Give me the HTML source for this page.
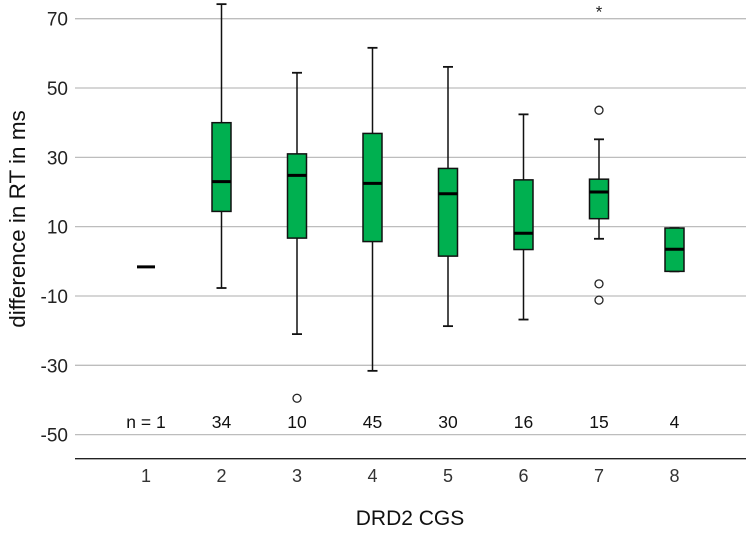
<!DOCTYPE html>
<html><head><meta charset="utf-8"><style>
body{margin:0;background:#fff;}
svg{display:block;font-family:"Liberation Sans",Arial,sans-serif;}
</style></head><body>
<svg id="chart" width="749" height="542"></svg>
<script>
const categories=["1","2","3","4","5","6","7","8"];
const counts=["n = 1","34","10","45","30","16","15","4"];
const whiskLow=[-1.6,-7.7,-21,-31.6,-18.7,-16.8,6.5,-2.9];
const q1=[-1.6,14.4,6.7,5.7,1.5,3.4,12.3,-2.9];
const medians=[-1.6,23,24.8,22.5,19.5,8.1,20,3.5];
const q3=[-1.6,40,31,36.9,26.8,23.5,23.7,9.6];
const whiskHigh=[-1.6,74.2,54.4,61.6,56.1,42.4,35.2,9.6];
const outliers=[[],[],[-39.5],[],[],[],[43.6,-6.5,-11.2],[]];
const extremes=[[],[],[],[],[],[],[72.7],[]];
const yTicks=[70,50,30,10,-10,-30,-50];

const NS="http://www.w3.org/2000/svg";
const svg=document.getElementById('chart');
const y=v=>18.7+(70-v)*3.466;
const x=i=>146+i*75.5;
function el(t,a,txt){const e=document.createElementNS(NS,t);for(const k in a)e.setAttribute(k,a[k]);if(txt!==undefined)e.textContent=txt;svg.appendChild(e);return e;}

yTicks.forEach(t=>{
  const g=el('line',{x1:75,x2:746,y1:y(t),y2:y(t),stroke:'#bdbdbd','stroke-width':1.3});
  
  
  const l=el('text',{x:68,y:y(t)+7,'text-anchor':'end','font-size':19,fill:'#222'},t);
  
  
});
const ax=el('line',{x1:75,x2:746,y1:458.7,y2:458.7,stroke:'#222','stroke-width':1.3});



categories.forEach((c,i)=>{
  const cx=x(i),w=19;
  if(i===0){
    const m=el('line',{x1:cx-9,x2:cx+9,y1:y(medians[i]),y2:y(medians[i]),stroke:'#000','stroke-width':3});
    
    
  } else {
    const wl=el('line',{x1:cx,x2:cx,y1:y(whiskHigh[i]),y2:y(whiskLow[i]),stroke:'#111','stroke-width':1.5});
    
    
    [whiskHigh[i],whiskLow[i]].forEach(v=>{
      const cap=el('line',{x1:cx-5,x2:cx+5,y1:y(v),y2:y(v),stroke:'#111','stroke-width':1.8});
      
      
    });
    const b=el('rect',{x:cx-w/2,y:y(q3[i]),width:w,height:y(q1[i])-y(q3[i]),fill:'#00b050',stroke:'#111','stroke-width':1.5});
    
    
    const m=el('line',{x1:cx-w/2,x2:cx+w/2,y1:y(medians[i]),y2:y(medians[i]),stroke:'#000','stroke-width':3});
    
    
  }
  outliers[i].forEach(v=>{
    const o=el('circle',{cx:cx,cy:y(v),r:4,fill:'#fff',stroke:'#222','stroke-width':1.3});
    
    
  });
  extremes[i].forEach(v=>{
    const s=el('text',{x:cx,y:y(v)+8,'text-anchor':'middle','font-size':17,fill:'#222'},'*');
    
    
  });
  const n=el('text',{x:cx,y:428,'text-anchor':'middle','font-size':17.5,fill:'#111'},counts[i]);
  
  
  const xl=el('text',{x:cx,y:482,'text-anchor':'middle','font-size':18,fill:'#333'},c);
  
  
});
const xt=el('text',{x:410,y:525,'text-anchor':'middle','font-size':21,fill:'#111'},'DRD2 CGS');


const yt=el('text',{x:0,y:0,'text-anchor':'middle','font-size':22.5,fill:'#111',transform:'translate(25,219) rotate(-90)'},'difference in RT in ms');


</script>
</body></html>
